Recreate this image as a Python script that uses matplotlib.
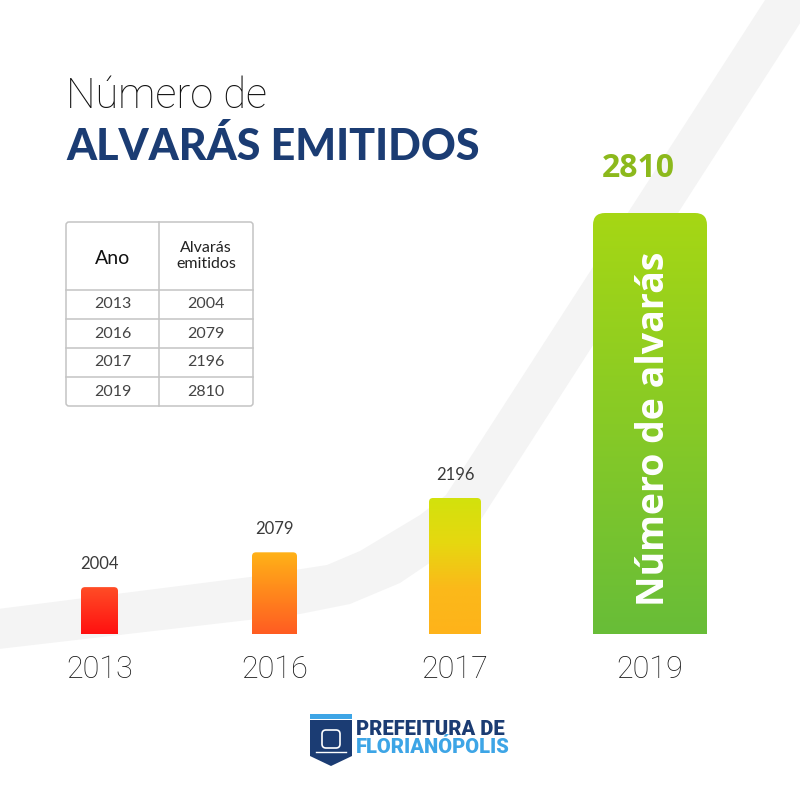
import numpy as np
import matplotlib
matplotlib.use("Agg")
import matplotlib.pyplot as plt
from matplotlib.patches import FancyBboxPatch, Polygon, Rectangle
from matplotlib.colors import LinearSegmentedColormap

# data
anos = ["2013", "2016", "2017", "2019"]
alvaras = [2004, 2079, 2196, 2810]

# layout (pixels of the 800x800 canvas)
bar_x = [99.5, 274.5, 455, 650]
bar_w = [37, 45, 52, 114]
bar_r = [4, 4, 4, 12]
grad_top = ["#ff4d26", "#ffb217", "#d2e20c", "#a6d714"]
grad_bot = ["#ff1010", "#ff5c22", "#ffb31a", "#68bd38"]

navy = "#1b3c73"
grey_txt = "#3a3a3a"

fig = plt.figure(figsize=(8, 8), dpi=100)
fig.patch.set_facecolor("white")

# background canvas in pixel coordinates
bg = fig.add_axes([0, 0, 1, 1], zorder=0)
bg.set_xlim(0, 800)
bg.set_ylim(800, 0)
bg.axis("off")

band = [(-10, 610), (250, 577), (327, 565), (360, 551), (420, 515), (446, 495), (765, 0),
        (815, 0), (471, 535), (400, 583), (350, 604), (300, 614), (-10, 650)]
bg.add_patch(Polygon(band, closed=True, facecolor="#f4f4f4", edgecolor="none"))

# title
bg.text(66, 108, "Número de", family="Roboto", weight="light", fontsize=30,
        color="#111111", va="baseline", ha="left")
bg.text(66, 160, "ALVARÁS EMITIDOS", family="Lato", weight="black", fontsize=31,
        color=navy, va="baseline", ha="left")

# table
tx0, tx1, tmid = 66, 253, 159
ty = [222, 290, 319, 348, 377, 406]
bg.add_patch(FancyBboxPatch((tx0, ty[0]), tx1 - tx0, ty[-1] - ty[0],
                            boxstyle="round,pad=0,rounding_size=3",
                            facecolor="white", edgecolor="#c4c4c4", lw=1.1))
bg.plot([tmid, tmid], [ty[0], ty[-1]], color="#c4c4c4", lw=1.1)
for yy in ty[1:-1]:
    bg.plot([tx0, tx1], [yy, yy], color="#c4c4c4", lw=1.1)
cx1 = (tx0 + tmid) / 2
cx2 = (tmid + tx1) / 2
bg.text(cx1, (ty[0] + ty[1]) / 2 + 2, "Ano", family="Lato", fontsize=14,
        color="#111111", ha="center", va="center")
bg.text(cx2, (ty[0] + ty[1]) / 2, "Alvarás\nemitidos", family="Lato", fontsize=11.5,
        color="#222222", ha="center", va="center", linespacing=1.1)
for i in range(len(anos)):
    yc = (ty[i + 1] + ty[i + 2]) / 2
    bg.text(cx1, yc, anos[i], family="Lato", fontsize=11.5,
            color="#444444", ha="center", va="center")
    bg.text(cx2, yc, str(alvaras[i]), family="Lato", fontsize=11.5,
            color="#444444", ha="center", va="center")

# logo
shield = [(310, 720), (352, 720), (352, 756), (331, 766), (310, 756)]
bg.add_patch(Polygon(shield, closed=True, facecolor=navy, edgecolor="none"))
bg.add_patch(Rectangle((310, 714), 42, 5, facecolor="#3da5e6", edgecolor="none"))
bg.add_patch(FancyBboxPatch((322, 730), 18, 18, boxstyle="round,pad=0,rounding_size=4",
                            facecolor="none", edgecolor="white", lw=1.2))
bg.plot([316, 346], [752, 752], color="white", lw=1)
bg.text(356, 735, "PREFEITURA DE", family="Roboto", weight="black", fontsize=14.5,
        color=navy, ha="left", va="baseline")
bg.text(356, 753, "FLORIANÓPOLIS", family="Roboto", weight="black", fontsize=14.5,
        color="#3da5e6", ha="left", va="baseline")

# bars axes: bottom at pixel 634, top (2810) at pixel 213
base = 1903
ax = fig.add_axes([0, 1 - 634 / 800, 1, (634 - 213) / 800], zorder=1)
ax.set_facecolor("none")
ax.set_xlim(0, 800)
ax.set_ylim(base, max(alvaras))
vpp = (max(alvaras) - base) / (634 - 213)  # value units per pixel

for i, v in enumerate(alvaras):
    x0 = bar_x[i] - bar_w[i] / 2
    ext = 20 * vpp
    patch = FancyBboxPatch((x0, base - ext), bar_w[i], v - base + ext,
                           boxstyle=f"round,pad=0,rounding_size={bar_r[i]}",
                           mutation_aspect=vpp, facecolor="none", edgecolor="none")
    ax.add_patch(patch)
    if i == 2:
        cmap = LinearSegmentedColormap.from_list(
            "g", [grad_bot[i], "#fbb91a", "#e6d810", grad_top[i]])
    else:
        cmap = LinearSegmentedColormap.from_list("g", [grad_bot[i], grad_top[i]])
    grad = np.linspace(0, 1, 256).reshape(-1, 1)
    im = ax.imshow(grad, extent=[x0, x0 + bar_w[i], base, v], origin="lower",
                   aspect="auto", cmap=cmap, interpolation="bicubic")
    im.set_clip_path(patch)

ax.set_xlim(0, 800)
ax.set_ylim(base, max(alvaras))

for i in range(3):
    ax.annotate(str(alvaras[i]), (bar_x[i], alvaras[i]), xytext=(0, 11),
                textcoords="offset points", ha="center", va="bottom",
                family="Lato", fontsize=12, color=grey_txt)
ax.annotate(str(alvaras[3]), (bar_x[3] - 12, alvaras[3]), xytext=(0, 20),
            textcoords="offset points", ha="center", va="bottom",
            family="Open Sans", weight="bold", fontsize=23, color="#8cb91c")

ax.text(bar_x[3] + 4, (base + alvaras[3]) / 2 - 5 * vpp, "Número de alvarás",
        rotation=90, ha="center", va="center", family="Open Sans", weight="bold",
        fontsize=27, color="white")

ax.set_xticks(bar_x, anos)
ax.set_yticks([])
ax.tick_params(axis="x", length=0, pad=15, labelsize=22, labelcolor="#1a1a1a")
for lab in ax.get_xticklabels():
    lab.set_family("Roboto")
    lab.set_weight("light")
for s in ax.spines.values():
    s.set_visible(False)

fig.savefig("out.png", dpi=100, facecolor="white")
